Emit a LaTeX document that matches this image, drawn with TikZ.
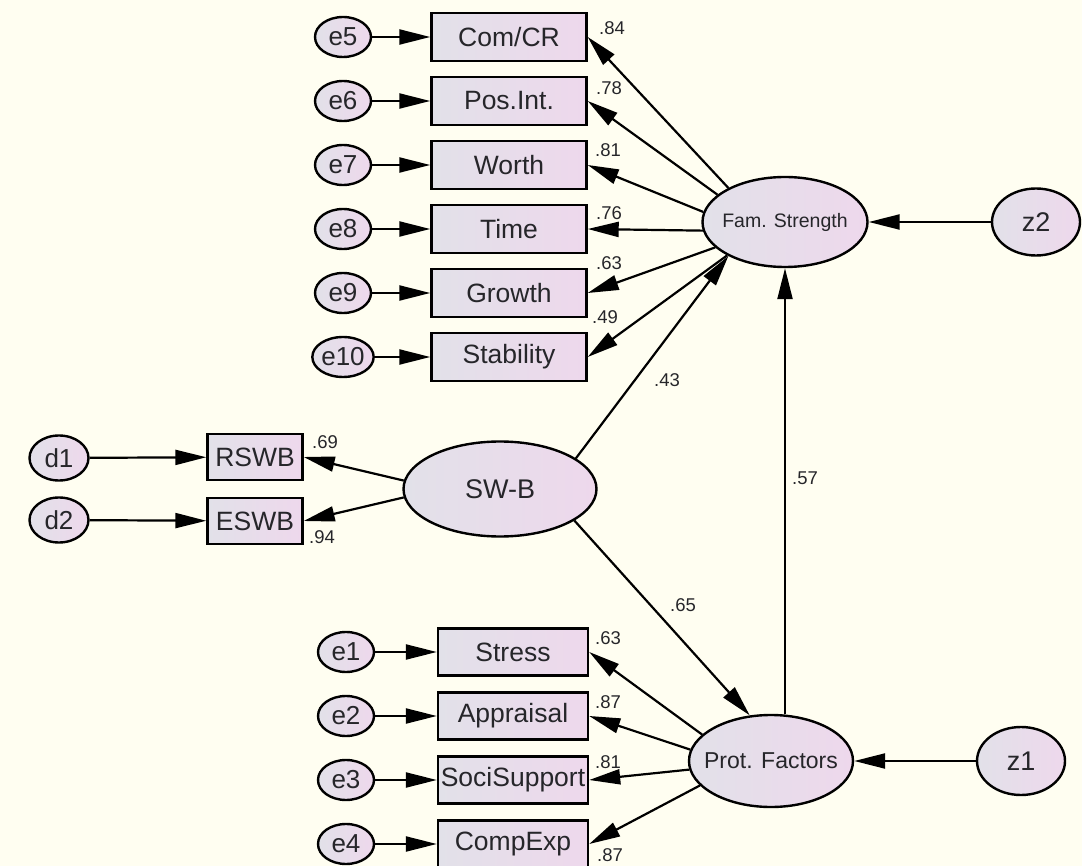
\documentclass[tikz,border=0pt]{standalone}
\usepackage{fontspec}
\setmainfont{Liberation Sans}
\usetikzlibrary{shapes.geometric,arrows.meta}
\definecolor{bgcream}{RGB}{255,254,241}
\definecolor{fillL}{RGB}{226,225,233}
\definecolor{fillR}{RGB}{238,216,236}
\definecolor{inkgray}{RGB}{38,38,42}
\tikzset{
	obs/.style={draw, line width=2.4pt, left color=fillL, right color=fillR, minimum width=155pt, minimum height=48pt, inner sep=0pt, text=inkgray, font=\fontsize{26.5}{28}\selectfont},
	err/.style={draw, ellipse, line width=2.4pt, left color=fillL, right color=fillR, minimum width=56pt, minimum height=40pt, inner sep=0pt, text=inkgray, font=\fontsize{26}{28}\selectfont},
	lat/.style={draw, ellipse, line width=2.4pt, left color=fillL, right color=fillR, inner xsep=-15pt, inner ysep=0pt, text=inkgray},
	arr/.style={line width=2.2pt, -{Triangle[length=31pt,width=15pt]}},
	est/.style={inner sep=0pt, text=inkgray, font=\fontsize{18.5}{20}\selectfont},
}
\begin{document}
\begin{tikzpicture}[x=1pt,y=-1pt]
	\path[use as bounding box, fill=bgcream] (0,0) rectangle (1082,866);
	% family strength indicators
	\node[obs] (comcr) at (509,37) {Com/CR};
	\node[obs] (posint) at (509,101) {Pos.Int.};
	\node[obs] (worth) at (509,165) {Worth};
	\node[obs] (time) at (509,229) {Time};
	\node[obs] (growth) at (509,293) {Growth};
	\node[obs] (stab) at (509,357) {Stability};
	\node[err] (e5) at (343,37) {e5};
	\node[err] (e6) at (343,101) {e6};
	\node[err] (e7) at (343,165) {e7};
	\node[err] (e8) at (343,229) {e8};
	\node[err] (e9) at (343,293) {e9};
	\node[err] (e10) at (343,357) {e10};
	% well-being indicators
	\node[obs, minimum width=95pt, minimum height=46pt] (rswb) at (255,457) {RSWB};
	\node[obs, minimum width=95pt, minimum height=46pt] (eswb) at (255,521) {ESWB};
	\node[err, minimum width=59pt, minimum height=45pt] (d1) at (59,458) {d1};
	\node[err, minimum width=59pt, minimum height=45pt] (d2) at (59,520) {d2};
	% protective factors indicators
	\node[obs, minimum width=150pt, minimum height=47pt] (stress) at (513,652) {Stress};
	\node[obs, minimum width=150pt, minimum height=47pt] (appr) at (513,716) {Appraisal};
	\node[obs, minimum width=150pt, minimum height=47pt] (soci) at (513,780) {SociSupport};
	\node[obs, minimum width=150pt, minimum height=47pt] (comp) at (513,844) {CompExp};
	\node[err] (e1) at (346,652) {e1};
	\node[err] (e2) at (346,716) {e2};
	\node[err] (e3) at (346,780) {e3};
	\node[err] (e4) at (346,844) {e4};
	% latent variables
	\node[lat, minimum width=165pt, minimum height=90pt, font=\fontsize{19.5}{21}\selectfont] (fs) at (785,222) {Fam. Strength};
	\node[lat, minimum width=164pt, minimum height=92pt, font=\fontsize{23}{25}\selectfont] (pf) at (771,761) {Prot. Factors};
	\node[lat, minimum width=193pt, minimum height=95pt, font=\fontsize{27}{29}\selectfont] (swb) at (500,489) {SW-B};
	\node[lat, minimum width=88pt, minimum height=67pt, font=\fontsize{27}{29}\selectfont] (z2) at (1036,222) {z2};
	\node[lat, minimum width=88pt, minimum height=68pt, font=\fontsize{27}{29}\selectfont] (z1) at (1021,761) {z1};
	% error paths
	\draw[arr] (e5) -- (comcr);
	\draw[arr] (e6) -- (posint);
	\draw[arr] (e7) -- (worth);
	\draw[arr] (e8) -- (time);
	\draw[arr] (e9) -- (growth);
	\draw[arr] (e10) -- (stab);
	\draw[arr] (d1) -- (rswb);
	\draw[arr] (d2) -- (eswb);
	\draw[arr] (e1) -- (stress);
	\draw[arr] (e2) -- (appr);
	\draw[arr] (e3) -- (soci);
	\draw[arr] (e4) -- (comp);
	\draw[arr] (z2) -- (fs);
	\draw[arr] (z1) -- (pf);
	% loadings
	\draw[arr] (fs.149) -- (comcr.east);
	\draw[arr] (fs.158) -- (posint.east);
	\draw[arr] (fs.173) -- (worth.east);
	\draw[arr] (fs.186) -- (time.east);
	\draw[arr] (fs.200) -- (growth.east);
	\draw[arr] (fs.210) -- (stab.east);
	\draw[arr] (swb.175) -- (rswb.east);
	\draw[arr] (swb.185) -- (eswb.east);
	\draw[arr] (pf.159) -- (stress.east);
	\draw[arr] (pf.172) -- (appr.east);
	\draw[arr] (pf.186) -- (soci.east);
	\draw[arr] (pf.199) -- (comp.east);
	% structural paths
	\draw[arr] (swb.22) -- (fs.211);
	\draw[arr] (swb.337) -- (pf.115);
	\draw[arr] (pf.north -| fs.south) -- (fs.south);
	% estimates
	\node[est] (lcomcr) at (612,28) {.84};
	\node[est] (lposint) at (609,88) {.78};
	\node[est] (lworth) at (608,150) {.81};
	\node[est] (ltime) at (609,213) {.76};
	\node[est] (lgrowth) at (609,263) {.63};
	\node[est] (lstab) at (605,317) {.49};
	\node[est] (lswbfs) at (667,380) {.43};
	\node[est] (lpffs) at (805,478) {.57};
	\node[est] (lswbpf) at (683,605) {.65};
	\node[est] (lrswb) at (325,442) {.69};
	\node[est] (leswb) at (322,537) {.94};
	\node[est] (lstress) at (608,638) {.63};
	\node[est] (lappr) at (608,702) {.87};
	\node[est] (lsoci) at (608,762) {.81};
	\node[est] (lcomp) at (610,855) {.87};
\end{tikzpicture}
\end{document}
